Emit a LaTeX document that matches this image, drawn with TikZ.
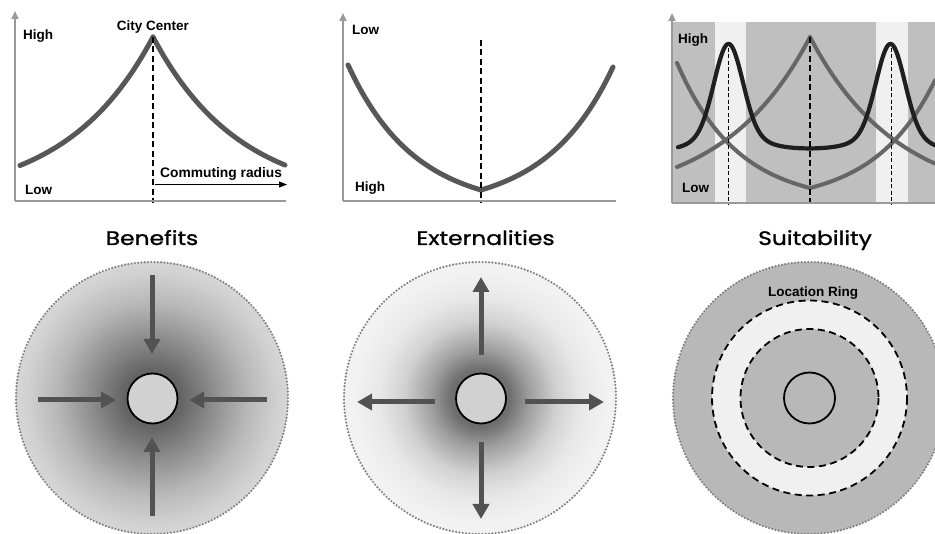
\documentclass[tikz,border=0pt]{standalone}
\usepackage{fontspec}
\setmainfont{Liberation Sans}
\newfontfamily\titlefont{Poppins}[FakeBold=1.2, FakeStretch=1.2]
\usetikzlibrary{arrows.meta}
\definecolor{axisgray}{gray}{0.6}
\definecolor{curvegray}{gray}{0.34}
\definecolor{curvegrayb}{gray}{0.40}
\definecolor{bggray}{gray}{0.75}
\definecolor{stripegray}{gray}{0.94}
\definecolor{arrowgray}{gray}{0.32}
\definecolor{innerfill}{gray}{0.82}
\definecolor{dotgray}{gray}{0.5}
\definecolor{suitgray}{gray}{0.72}
\pgfdeclareradialshading{benefshade}{\pgfpoint{0bp}{0bp}}{%
  color(0bp)=(black!68); color(11bp)=(black!60); color(22bp)=(black!45);
  color(35bp)=(black!28); color(46bp)=(black!18); color(50bp)=(black!16)}
\pgfdeclareradialshading{extshade}{\pgfpoint{0bp}{0bp}}{%
  color(0bp)=(black!66); color(11bp)=(black!56); color(18bp)=(black!38);
  color(28bp)=(black!18); color(37bp)=(black!9); color(47bp)=(black!5); color(50bp)=(black!5)}
\begin{document}
\begin{tikzpicture}[x=1pt,y=-1pt,
  lab/.style={font=\bfseries\fontsize{13.5}{14}\selectfont, inner sep=0pt},
  ttl/.style={font=\titlefont\fontsize{19.5}{20}\selectfont, inner sep=0pt, anchor=base},
  axis/.style={draw=axisgray, line width=2.2},
  axisarr/.style={axis, -{Triangle[length=8,width=7]}},
  curve/.style={draw=curvegray, line width=5, line cap=round, line join=round},
  curveb/.style={draw=curvegrayb, line width=4, line cap=round, line join=round},
  curvek/.style={draw=black!88, line width=4.2, line cap=round, line join=round},
  dashline/.style={draw=black, line width=1.8, dash pattern=on 6pt off 3.5pt},
  thindash/.style={draw=black, line width=1, dash pattern=on 4pt off 2.5pt},
  bigarr/.style={draw=arrowgray, line width=5, -{Triangle[length=15,width=16]}, fill=arrowgray},
  dotborder/.style={draw=dotgray, line width=2.4, dash pattern=on 0pt off 3.3pt, line cap=round},
  hub/.style={draw=black, line width=1.8, fill=innerfill},
  ringdash/.style={draw=black, line width=1.8, dash pattern=on 7pt off 4.5pt}
]
\useasboundingbox (0,0) rectangle (935,534);
\fill[white] (0,0) rectangle (935,534);

% ---------------- Panel 1 ----------------
\draw[curve] plot[domain=20:153, samples=60] (\x, {201-164*exp(-0.0115*(153-\x))});
\draw[curve] plot[domain=153:285, samples=60] (\x, {201-164*exp(-0.0115*(\x-153))});
\coordinate (p1peak) at (153,37);
\coordinate (p1base) at (153,203);
\draw[dashline] (p1peak) -- (p1base);
\coordinate (p1o) at (15,201);
\coordinate (p1y) at (15,11);
\coordinate (p1x) at (286,201);
\draw[axis] (p1o) -- (p1x);
\draw[axisarr] (p1o) -- (p1y);
\node[lab, anchor=base west] (p1high) at (23,39.5) {High};
\node[lab, anchor=base] (p1city) at (153,30.5) {City Center};
\node[lab, anchor=base west, font=\bfseries\fontsize{13.8}{14}\selectfont] (p1comm) at (160,178) {Commuting radius};
\coordinate (cr1) at (155,184.5);
\coordinate (cr2) at (287,184.5);
\draw[black, line width=1.2, -{Triangle[length=8,width=6]}] (cr1) -- (cr2);
\node[lab, anchor=base west] (p1low) at (25,194.5) {Low};

% ---------------- Panel 2 ----------------
\draw[curve] plot[domain=348:481, samples=60] (\x, {201-(11+19.7*(exp(0.015*(481-\x))-1))});
\draw[curve] plot[domain=481:613, samples=60] (\x, {201-(11+19.7*(exp(0.015*(\x-481))-1))});
\coordinate (p2top) at (481,40);
\coordinate (p2base) at (481,203);
\draw[dashline] (p2top) -- (p2base);
\coordinate (p2o) at (343,201);
\coordinate (p2y) at (343,13);
\coordinate (p2x) at (616,201);
\draw[axis] (p2o) -- (p2x);
\draw[axisarr] (p2o) -- (p2y);
\node[lab, anchor=base west] (p2low) at (352,35) {Low};
\node[lab, anchor=base west] (p2high) at (355,192) {High};

% ---------------- Panel 3 ----------------
\fill[bggray] (672,22) rectangle (935,203);
\fill[stripegray] (715,22) rectangle (746,203);
\fill[stripegray] (876,22) rectangle (908,203);
\draw[curveb] plot[domain=677:810, samples=60] (\x, {203-166*exp(-0.0115*(810-\x))});
\draw[curveb] plot[domain=810:935, samples=60] (\x, {203-166*exp(-0.0115*(\x-810))});
\draw[curveb] plot[domain=677:810, samples=60] (\x, {203-(15+15.7*(exp(0.0165*(810-\x))-1))});
\draw[curveb] plot[domain=810:935, samples=60] (\x, {203-(15+15.7*(exp(0.0165*(\x-810))-1))});
\draw[curvek] plot[domain=678:935, samples=260, smooth] (\x, {203-(47
   + 83*exp(-((\x-728.5)/20)^2) + 28/(1+((\x-728.5)/32)^2)
   + 83*exp(-((\x-890.5)/20)^2) + 28/(1+((\x-890.5)/32)^2))});
\coordinate (p3c1) at (810,37);
\coordinate (p3c2) at (810,205);
\draw[dashline] (p3c1) -- (p3c2);
\coordinate (p3l1) at (728.5,48);
\coordinate (p3l2) at (728.5,205);
\draw[thindash] (p3l1) -- (p3l2);
\coordinate (p3r1) at (891,48);
\coordinate (p3r2) at (891,205);
\draw[thindash] (p3r1) -- (p3r2);
\coordinate (p3o) at (672,203);
\coordinate (p3y) at (672,13);
\coordinate (p3x) at (935,203);
\draw[axis] (p3o) -- (p3x);
\draw[axisarr] (p3o) -- (p3y);
\node[lab, anchor=base west] (p3high) at (678,44) {High};
\node[lab, anchor=base west] (p3low) at (682,193) {Low};

% ---------------- Titles ----------------
\node[ttl] (tben) at (152,245) {Benefits};
\node[ttl] (text) at (485.5,245) {Externalities};
\node[ttl] (tsuit) at (815,245) {Suitability};

% ---------------- Benefits circle ----------------
\begin{scope}
  \clip (152,398) circle[radius=136];
  \node[inner sep=0pt, outer sep=0pt, scale=2.72] (bshade) at (152,398) {\pgfuseshading{benefshade}};
\end{scope}
\draw[dotborder] (152,398) circle[radius=136];
\coordinate (bt1) at (152,275);  \coordinate (bt2) at (152,354);
\coordinate (bb1) at (152,516);  \coordinate (bb2) at (152,437);
\coordinate (bl1) at (38,400);   \coordinate (bl2) at (116,400);
\coordinate (br1) at (267,400);  \coordinate (br2) at (189,400);
\draw[bigarr] (bt1) -- (bt2);
\draw[bigarr] (bb1) -- (bb2);
\draw[bigarr] (bl1) -- (bl2);
\draw[bigarr] (br1) -- (br2);
\node[hub, circle, minimum size=50, inner sep=0pt] (bhub) at (152.5,398.5) {};

% ---------------- Externalities circle ----------------
\begin{scope}
  \clip (480,398) circle[radius=136];
  \node[inner sep=0pt, outer sep=0pt, scale=2.72] (eshade) at (480,398) {\pgfuseshading{extshade}};
\end{scope}
\draw[dotborder] (480,398) circle[radius=136];
\coordinate (et1) at (481,355);  \coordinate (et2) at (481,277);
\coordinate (eb1) at (481,442);  \coordinate (eb2) at (481,519);
\coordinate (el1) at (435,402);  \coordinate (el2) at (357,402);
\coordinate (er1) at (525,402);  \coordinate (er2) at (604,402);
\draw[bigarr] (et1) -- (et2);
\draw[bigarr] (eb1) -- (eb2);
\draw[bigarr] (el1) -- (el2);
\draw[bigarr] (er1) -- (er2);
\node[hub, circle, minimum size=50, inner sep=0pt] (ehub) at (481,398.5) {};

% ---------------- Suitability circle ----------------
\fill[suitgray] (809,398) circle[radius=136];
\draw[dotborder] (809,398) circle[radius=136];
\fill[stripegray] (809.5,398) circle[radius=97.5];
\draw[ringdash] (809.5,398) circle[radius=97.5];
\fill[suitgray] (809.5,398) circle[radius=69];
\draw[ringdash] (809.5,398) circle[radius=69];
\node[circle, draw=black, line width=1.8, minimum size=51, inner sep=0pt] (shub) at (809.5,398) {};
\node[lab, anchor=base] (sring) at (813,297) {Location Ring};
\end{tikzpicture}
\end{document}
